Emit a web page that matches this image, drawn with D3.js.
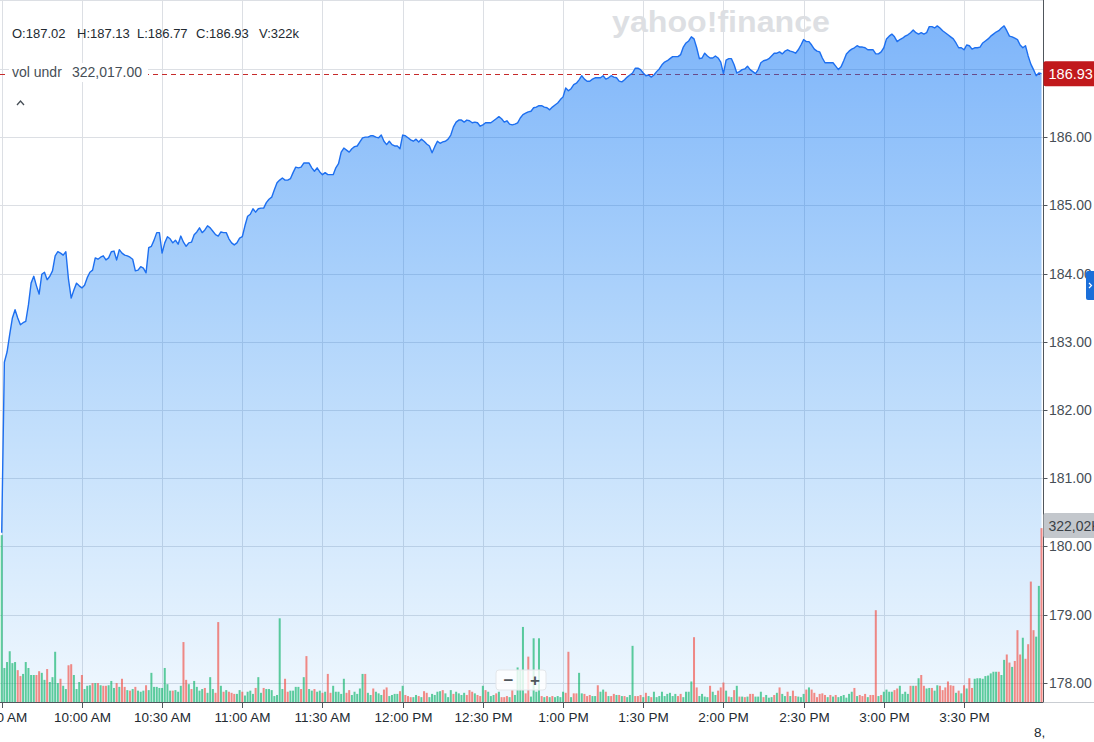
<!DOCTYPE html>
<html>
<head>
<meta charset="utf-8">
<script src="https://cdn.jsdelivr.net/npm/d3@7"></script>
<style>
  html, body { margin: 0; padding: 0; background: #fff; }
  svg { display: block; font-family: "Liberation Sans", Arial, Helvetica, sans-serif; }
</style>
</head>
<body>
<svg id="chart" width="1094" height="742"></svg>
<script>
"use strict";

// one value per minute, 9:30 -> 15:59
var prices = [
  180.20,182.70,182.85,183.11,183.35,183.47,183.35,183.25,183.28,183.30,
  183.54,183.86,183.96,183.82,183.70,183.99,184.02,183.91,183.96,184.04,
  184.26,184.32,184.30,184.27,184.32,183.91,183.64,183.76,183.86,183.82,
  183.79,183.83,183.94,184.02,184.05,184.23,184.21,184.24,184.26,184.20,
  184.23,184.32,184.33,184.20,184.35,184.30,184.27,184.26,184.24,184.21,
  184.04,184.05,184.10,184.08,184.01,184.38,184.40,184.49,184.60,184.60,
  184.30,184.45,184.54,184.51,184.45,184.49,184.43,184.55,184.46,184.40,
  184.45,184.46,184.57,184.61,184.67,184.60,184.64,184.70,184.67,184.62,
  184.57,184.55,184.61,184.60,184.60,184.51,184.45,184.42,184.45,184.52,
  184.54,184.70,184.84,184.87,184.95,184.90,184.95,184.96,184.96,185.04,
  185.09,185.12,185.23,185.33,185.37,185.40,185.37,185.37,185.39,185.48,
  185.56,185.55,185.56,185.62,185.62,185.62,185.55,185.50,185.55,185.49,
  185.45,185.48,185.45,185.45,185.45,185.55,185.61,185.78,185.84,185.81,
  185.78,185.83,185.86,185.87,185.93,185.99,186.00,186.00,186.02,186.02,
  186.00,185.99,186.03,185.94,185.89,185.94,185.89,185.87,185.87,185.83,
  186.03,186.02,185.99,185.96,185.94,185.97,185.93,185.97,185.94,185.90,
  185.87,185.77,185.86,185.94,185.91,185.93,185.94,185.97,186.03,186.15,
  186.22,186.25,186.25,186.22,186.25,186.24,186.21,186.22,186.21,186.16,
  186.18,186.21,186.21,186.21,186.24,186.27,186.30,186.27,186.22,186.24,
  186.19,186.18,186.19,186.21,186.28,186.33,186.35,186.37,186.38,186.43,
  186.44,186.46,186.46,186.44,186.43,186.40,186.44,186.47,186.50,186.55,
  186.59,186.72,186.68,186.71,186.77,186.79,186.84,186.90,186.85,186.82,
  186.82,186.85,186.87,186.87,186.87,186.90,186.85,186.87,186.90,186.88,
  186.87,186.82,186.81,186.84,186.88,186.91,186.94,187.01,187.01,186.99,
  186.94,186.90,186.91,186.88,186.91,186.96,187.00,187.06,187.10,187.12,
  187.15,187.18,187.18,187.18,187.21,187.32,187.38,187.41,187.47,187.44,
  187.31,187.15,187.16,187.23,187.19,187.16,187.16,187.19,187.16,187.10,
  186.93,187.13,187.15,187.15,187.06,186.94,186.96,186.99,187.00,187.04,
  186.99,186.96,186.93,186.99,187.09,187.12,187.13,187.15,187.19,187.23,
  187.23,187.25,187.22,187.26,187.28,187.26,187.25,187.23,187.28,187.35,
  187.43,187.40,187.40,187.35,187.29,187.26,187.25,187.16,187.09,187.09,
  187.09,187.09,187.04,186.99,187.03,187.12,187.22,187.26,187.29,187.31,
  187.34,187.32,187.32,187.31,187.28,187.28,187.28,187.22,187.22,187.25,
  187.31,187.44,187.48,187.51,187.47,187.40,187.43,187.45,187.48,187.50,
  187.53,187.57,187.53,187.51,187.53,187.51,187.53,187.62,187.62,187.60,
  187.63,187.60,187.56,187.53,187.50,187.47,187.44,187.38,187.31,187.31,
  187.28,187.35,187.34,187.29,187.31,187.31,187.32,187.38,187.41,187.44,
  187.48,187.51,187.54,187.56,187.60,187.63,187.56,187.48,187.47,187.45,
  187.43,187.35,187.31,187.34,187.19,187.07,186.99,186.90,186.94,186.93
];

// thousands of shares per minute
var volumes = [
  309,63,74,94,72,74,59,48,52,74,
  63,50,50,50,57,54,41,61,37,46,
  93,35,43,30,24,68,70,50,24,37,
  50,24,30,31,35,35,35,31,30,30,
  31,39,26,35,28,43,28,22,21,24,
  28,21,19,21,31,22,54,28,28,26,
  26,63,33,21,21,22,19,30,111,41,
  33,24,39,28,21,24,26,17,46,24,
  17,148,30,19,22,19,17,15,15,22,
  19,12,19,21,15,26,46,17,26,24,
  24,22,11,13,155,24,43,19,21,21,
  28,28,24,46,85,24,21,24,19,21,
  17,19,52,17,30,19,19,15,43,17,
  22,13,19,15,25,52,52,17,13,25,
  19,16,13,23,27,11,13,15,15,20,
  30,13,11,9,9,13,11,9,20,17,
  9,15,13,19,20,22,16,9,22,15,
  19,16,13,17,13,22,19,16,13,11,
  30,22,19,11,13,16,19,9,9,11,
  9,22,13,64,59,139,16,84,10,118,
  19,118,11,9,11,9,11,9,11,9,
  19,17,93,9,16,16,54,16,15,11,
  13,11,11,31,19,23,19,11,11,15,
  13,13,11,11,9,13,104,11,11,13,
  9,17,11,9,19,9,11,19,11,15,
  17,11,15,11,15,9,19,19,38,120,
  27,11,15,10,9,30,19,13,21,27,
  36,21,10,9,22,30,10,10,9,10,
  15,15,10,10,19,9,13,8,9,13,
  17,27,15,11,19,11,21,11,10,9,
  15,23,27,23,17,9,15,16,13,9,
  13,10,13,9,11,13,8,15,19,26,
  11,13,11,15,9,13,13,170,11,13,
  19,23,19,19,22,25,30,15,19,15,
  30,30,30,44,50,30,25,26,26,21,
  31,30,22,27,38,31,30,17,21,16,
  31,25,44,26,43,44,44,43,48,49,
  53,56,56,56,50,78,88,73,65,76,
  133,88,119,80,107,223,133,121,215,322
];

// minutes whose bar closed lower (red)
var downBars = [
  6,7,13,14,17,22,25,26,30,34,36,38,39,43,45,46,48,50,54,64,68,69,71,76,80,81,83,85,86,87,90,95,98,
  106,107,112,114,117,120,122,123,129,130,136,139,143,144,149,151,152,153,156,158,159,165,169,174,175,
  176,178,179,181,185,187,188,189,191,196,197,202,204,206,211,212,214,215,218,219,220,223,226,228,229,
  231,233,237,238,239,241,243,253,254,259,260,265,268,269,270,272,274,276,278,280,281,285,289,291,294,
  296,297,301,303,304,305,306,307,308,310,312,319,321,322,323,325,326,327,329,334,335,340,342,344,345,
  348,351,352,353,354,355,356,358,360,362,363,373,376,377,379,380,381,383,384,385,386,389
];

var priceTicks = [178, 179, 180, 181, 182, 183, 184, 185, 186, 187];
var headerLabels = ["O:187.02", "H:187.13", "L:186.77", "C:186.93", "V:322k"];
var headerX = [12, 77, 137, 196, 259];
var volLabel = "vol undr";
var volValue = 322017;
var lastPrice = 186.93;
var dateStub = "8,";

const CHART = (function() {
  var _width = 1094;
  var _height = 742;
  var _right = 1043.5;
  var _bottom = 702;
  var _svg = d3.select("#chart");
  var _down = new Set(downBars);

  var _t0 = new Date(2024, 7, 8, 9, 30);
  var _t1 = new Date(2024, 7, 8, 16, 0);
  var _times = prices.map(function(p, i) { return d3.timeMinute.offset(_t0, i); });

  var _x = d3.scaleTime().domain([_t0, _t1]).range([1.7, 1044.2]);
  var _y = d3.scaleLinear().domain([177.72, 188.01]).range([_bottom, 0]);
  var _yVol = d3.scaleLinear().domain([0, 1300]).range([_bottom, 0]);
  var _timeTicks = _x.ticks(d3.timeMinute.every(30)).filter(function(t) { return t < _t1; });

  function drawBackground() {
    _svg.append("rect").attr("width", _width).attr("height", _height).attr("fill", "#fff");

    var defs = _svg.append("defs");
    var grad = defs.append("linearGradient")
      .attr("id", "areaFill")
      .attr("gradientUnits", "userSpaceOnUse")
      .attr("x1", 0).attr("y1", 0).attr("x2", 0).attr("y2", _bottom);
    grad.append("stop").attr("offset", 0).attr("stop-color", "rgb(0,108,245)").attr("stop-opacity", 0.52);
    grad.append("stop").attr("offset", 1).attr("stop-color", "rgb(0,128,240)").attr("stop-opacity", 0.06);

    defs.append("clipPath").attr("id", "plotClip")
      .append("rect").attr("width", _right).attr("height", _bottom);
  }

  function drawGrid() {
    var g = _svg.append("g").attr("stroke", "#dcdfe4").attr("stroke-width", 1);
    g.append("line").attr("x1", 0).attr("x2", _right).attr("y1", 0.5).attr("y2", 0.5);
    g.selectAll(".hgrid").data(priceTicks).enter().append("line")
      .attr("x1", 0).attr("x2", _right)
      .attr("y1", function(d) { return Math.round(_y(d)) + 0.5; })
      .attr("y2", function(d) { return Math.round(_y(d)) + 0.5; });
    g.selectAll(".vgrid").data(_timeTicks).enter().append("line")
      .attr("y1", 0).attr("y2", _bottom)
      .attr("x1", function(d) { return Math.round(_x(d)) + 0.5; })
      .attr("x2", function(d) { return Math.round(_x(d)) + 0.5; });
  }

  function drawLastPriceLine() {
    var yy = Math.round(_y(lastPrice)) + 0.5;
    _svg.append("line")
      .attr("x1", 0).attr("x2", _right).attr("y1", yy).attr("y2", yy)
      .attr("stroke", "#c62a2a").attr("stroke-width", 1).attr("stroke-dasharray", "5,4");
  }

  function drawPrice() {
    var area = d3.area()
      .x(function(d, i) { return _x(_times[i]); })
      .y0(_bottom)
      .y1(function(d) { return _y(d); });
    var line = d3.line()
      .x(function(d, i) { return _x(_times[i]); })
      .y(function(d) { return _y(d); });
    var g = _svg.append("g").attr("clip-path", "url(#plotClip)");
    g.append("path").datum(prices).attr("d", area).attr("fill", "url(#areaFill)");
    g.append("path").datum(prices).attr("d", line)
      .attr("fill", "none").attr("stroke", "#1d6ff0").attr("stroke-width", 1.4)
      .attr("stroke-linejoin", "round");
  }

  function drawVolume() {
    _svg.append("g").selectAll("rect").data(volumes).enter().append("rect")
      .attr("x", function(d, i) { return _x(_times[i]) - 1; })
      .attr("width", 2)
      .attr("y", function(d) { return _yVol(d); })
      .attr("height", function(d) { return _bottom - _yVol(d); })
      .attr("fill", function(d, i) { return _down.has(i) ? "#f2453a" : "#00b061"; })
      .attr("fill-opacity", 0.62);
  }

  function drawAxes() {
    var g = _svg.append("g");
    g.append("line").attr("x1", _right).attr("x2", _width).attr("y1", _bottom + 0.5).attr("y2", _bottom + 0.5)
      .attr("stroke", "#c9cdd2");
    g.append("line").attr("x1", 0).attr("x2", _right).attr("y1", _bottom + 0.5).attr("y2", _bottom + 0.5)
      .attr("stroke", "#50565c");
    g.append("line").attr("x1", _right).attr("x2", _right).attr("y1", 0).attr("y2", _bottom)
      .attr("stroke", "#50565c");

    var fmt = d3.timeFormat("%-I:%M %p");
    var xt = g.selectAll(".xt").data(_timeTicks).enter().append("g")
      .attr("transform", function(d) { return "translate(" + (Math.round(_x(d)) + 0.5) + "," + _bottom + ")"; });
    xt.append("line").attr("y1", 0).attr("y2", 6).attr("stroke", "#50565c");
    xt.append("text").attr("y", 20).attr("text-anchor", "middle")
      .attr("font-size", 13.5).attr("fill", "#232a31").text(fmt);

    g.append("text").attr("x", 1034).attr("y", 737).attr("font-size", 13.5).attr("fill", "#232a31").text(dateStub);

    // the 187.00 label sits under the last-price badge, so only its tick is drawn
    var yp = _y(lastPrice);
    var yt = g.selectAll(".yt").data(priceTicks).enter().append("g")
      .attr("transform", function(d) { return "translate(" + _right + "," + (Math.round(_y(d)) + 0.5) + ")"; });
    yt.append("line").attr("x1", 0).attr("x2", 4).attr("stroke", "#50565c");
    yt.filter(function(d) { return Math.abs(_y(d) - yp) > 16; })
      .append("text").attr("x", 5.5).attr("dy", "0.35em")
      .attr("font-size", 14).attr("fill", "#464e56").text(d3.format(".2f"));
  }

  function drawBadges() {
    var yp = _y(lastPrice);
    _svg.append("rect").attr("x", _right).attr("y", yp - 12.5).attr("width", 52).attr("height", 25)
      .attr("rx", 2).attr("fill", "#c1191c");
    _svg.append("text").attr("x", 1048.5).attr("y", yp).attr("dy", "0.36em")
      .attr("font-size", 14.5).attr("fill", "#fff").text(d3.format(".2f")(lastPrice));

    var yv = _yVol(volValue / 1000) - 2.5;
    _svg.append("rect").attr("x", _right).attr("y", yv - 12.5).attr("width", 52).attr("height", 25)
      .attr("rx", 2).attr("fill", "#c3c7cc");
    _svg.append("text").attr("x", 1048.5).attr("y", yv).attr("dy", "0.36em")
      .attr("font-size", 14).attr("fill", "#3a4046").text("322,02K");

    _svg.append("rect").attr("x", 1086).attr("y", 271).attr("width", 10).attr("height", 29)
      .attr("rx", 2).attr("fill", "#1b6fd9");
    _svg.append("path").attr("d", "M1089,283 L1091.5,285.5 L1089,288")
      .attr("fill", "none").attr("stroke", "#fff").attr("stroke-width", 1.2);
  }

  function drawOverlay() {
    _svg.append("text").attr("x", 612).attr("y", 32)
      .attr("font-size", 30).attr("font-weight", 900).attr("fill", "#dddfe3")
      .attr("textLength", 218).attr("lengthAdjust", "spacingAndGlyphs")
      .text("yahoo!finance");

    var head = _svg.append("g").attr("font-size", 13).attr("fill", "#232a31");
    head.selectAll("text").data(headerLabels).enter().append("text")
      .attr("x", function(d, i) { return headerX[i]; }).attr("y", 38).text(function(d) { return d; });

    _svg.append("rect").attr("x", 9).attr("y", 63).attr("width", 139).attr("height", 19).attr("fill", "#fff");
    _svg.append("text").attr("x", 12).attr("y", 77).attr("font-size", 14).attr("fill", "#464e56").text(volLabel);
    _svg.append("text").attr("x", 72).attr("y", 77).attr("font-size", 14).attr("fill", "#464e56")
      .text(d3.format(",.2f")(volValue));
    _svg.append("path").attr("d", "M17,105 L20.5,101 L24,105")
      .attr("fill", "none").attr("stroke", "#464e56").attr("stroke-width", 1.3);

    var zoom = _svg.append("g");
    zoom.append("rect").attr("x", 496).attr("y", 670).attr("width", 50).attr("height", 20).attr("rx", 3)
      .attr("fill", "#fff").attr("fill-opacity", 0.8).attr("stroke", "#e3e6ea");
    zoom.append("text").attr("x", 508.5).attr("y", 680).attr("dy", "0.36em").attr("text-anchor", "middle")
      .attr("font-size", 17).attr("font-weight", "bold").attr("fill", "#50565c").text("\u2212");
    zoom.append("text").attr("x", 535).attr("y", 680).attr("dy", "0.36em").attr("text-anchor", "middle")
      .attr("font-size", 17).attr("font-weight", "bold").attr("fill", "#50565c").text("+");
  }

  function render() {
    drawBackground();
    drawGrid();
    drawLastPriceLine();
    drawPrice();
    drawVolume();
    drawAxes();
    drawBadges();
    drawOverlay();
  }

  return { render: render };
}());

CHART.render();
</script>
</body>
</html>
